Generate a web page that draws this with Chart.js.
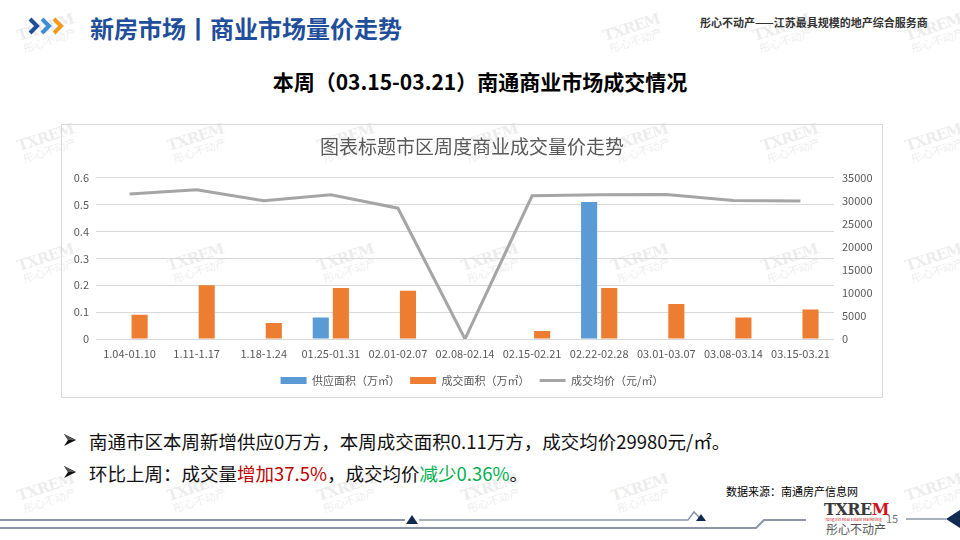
<!DOCTYPE html>
<html>
<head>
<meta charset="utf-8">
<script src="https://cdn.jsdelivr.net/npm/chart.js@4"></script>
<style>
  body { margin: 0; background: #fff; }
  #page { position: relative; width: 960px; height: 540px; overflow: hidden; background: #fff;
          font-family: "Noto Sans CJK SC", "Noto Sans", sans-serif; }
  .abs { position: absolute; white-space: nowrap; }
  .wm { position: absolute; color: rgba(190,190,190,0.28); transform: rotate(-18deg); text-align: center;
        line-height: 1; pointer-events: none; }
  .wm b { display: block; font-family: "DejaVu Serif", serif; font-size: 15px; letter-spacing: -1px; }
  .wm span { display: block; font-size: 11px; }
  #frame { position: absolute; left: 61px; top: 124px; width: 820px; height: 272px; border: 1px solid #d9d9d9; }
  #chartBox { position: absolute; left: 0; top: 0; width: 820px; height: 272px; }
  .bullet { font-size: 18.5px; color: #111; }
</style>
</head>
<body>
<div id="page">
  <div id="marks"></div>

  <svg class="abs" style="left:26px;top:16px" width="46" height="20" viewBox="0 0 46 20">
    <polyline points="4,3 11,10 4,17" fill="none" stroke="#1f4e9b" stroke-width="4"/>
    <polyline points="16,3 23,10 16,17" fill="none" stroke="#3d8ed6" stroke-width="4"/>
    <polyline points="28,3 35,10 28,17" fill="none" stroke="#f39a1c" stroke-width="4"/>
  </svg>
  <div class="abs" style="left:90px;top:10px;font-size:24px;font-weight:bold;color:#1f4e9b;">新房市场丨商业市场量价走势</div>
  <div class="abs" style="left:700px;top:14px;font-size:11px;font-weight:bold;color:#333;">彤心不动产——江苏最具规模的地产综合服务商</div>

  <div class="abs" style="left:0;width:960px;top:66px;text-align:center;font-size:21px;font-weight:bold;color:#000;">本周（03.15-03.21）南通商业市场成交情况</div>

  <div id="frame"><div id="chartBox"><canvas id="priceChart"></canvas></div></div>

  <svg class="abs" style="left:63px;top:433px" width="14" height="14" viewBox="0 0 14 14">
    <polygon points="1,1 13,7 1,13 5,7" fill="#111"/>
    <polygon points="1,1 13,7 5,7" fill="#555"/>
  </svg>
  <svg class="abs" style="left:63px;top:465px" width="14" height="14" viewBox="0 0 14 14">
    <polygon points="1,1 13,7 1,13 5,7" fill="#111"/>
    <polygon points="1,1 13,7 5,7" fill="#555"/>
  </svg>
  <div class="abs bullet" style="left:89px;top:428px;">南通市区本周新增供应0万方，本周成交面积0.11万方，成交均价29980元/㎡。</div>
  <div class="abs bullet" style="left:89px;top:460px;">环比上周：成交量<span style="color:#c00000">增加37.5%</span>，成交均价<span style="color:#00b050">减少0.36%</span>。</div>
  <div class="abs" style="left:726px;top:483px;font-size:11px;color:#000;">数据来源：南通房产信息网</div>

  <svg class="abs" style="left:0;top:500px" width="960" height="40" viewBox="0 0 960 40">
    <polyline points="0,20 405,20" fill="none" stroke="#8d96a8" stroke-width="2"/>
    <polyline points="419,20 688,20 694,12 700,18" fill="none" stroke="#8d96a8" stroke-width="1.5"/>
    <polyline points="0,28 756,28 764,20 806,20" fill="none" stroke="#8d96a8" stroke-width="2"/>
    <polygon points="406,24 412,15 418,24" fill="#102a50"/>
    <polygon points="696,21 701,14 706,21" fill="#102a50"/>
    <polyline points="906,19 946,19" fill="none" stroke="#8d96a8" stroke-width="1.5"/>
    <polygon points="946,19 960,10 960,28" fill="#102a50"/>
  </svg>
  <div class="abs" style="left:824px;top:500px;font-family:'DejaVu Serif',serif;font-weight:bold;font-size:16px;letter-spacing:-0.5px;color:#3a3a3a;">TXRE<span style="color:#d0161c">M</span></div>
  <div class="abs" style="left:825px;top:516px;font-size:4px;color:#d0161c;">Tong Xin Real Estate Marketing</div>
  <div class="abs" style="left:826px;top:520px;font-size:12px;color:#555;">彤心不动产</div>
  <div class="abs" style="left:886px;top:510px;font-size:11px;color:#777;">15</div>
</div>

<script>
// 分类与数据
const weeks = ['1.04-01.10', '1.11-1.17', '1.18-1.24', '01.25-01.31', '02.01-02.07', '02.08-02.14',
               '02.15-02.21', '02.22-02.28', '03.01-03.07', '03.08-03.14', '03.15-03.21'];
const supplyArea = [0, 0, 0, 0.08, 0, 0, 0, 0.51, 0, 0, 0];          // 供应面积（万㎡）
const dealArea = [0.09, 0.2, 0.06, 0.19, 0.18, 0, 0.03, 0.19, 0.13, 0.08, 0.11]; // 成交面积（万㎡）
const avgPrice = [31500, 32400, 30000, 31300, 28400, 0, 31100, 31300, 31350, 30090, 29980]; // 成交均价（元/㎡）
const areaTicks = ['0', '0.1', '0.2', '0.3', '0.4', '0.5', '0.6'];
const priceTicks = ['0', '5000', '10000', '15000', '20000', '25000', '30000', '35000'];

// watermarks (decoration only)
const marks = document.getElementById('marks');
[[18, 20], [168, 130], [318, 130], [462, 130], [612, 130], [762, 130], [906, 130],
 [168, 250], [318, 250], [462, 250], [612, 250], [762, 250], [906, 250],
 [18, 250], [18, 130], [168, 480], [318, 480], [462, 480], [612, 480], [906, 480], [18, 480],
 [604, 20], [754, 20], [906, 20]].forEach(function(p) {
    const d = document.createElement('div');
    d.className = 'wm';
    d.style.left = p[0] + 'px';
    d.style.top = p[1] + 'px';
    d.innerHTML = '<b>TXREM</b><span>彤心不动产</span>';
    marks.appendChild(d);
});

const FONT = "'Noto Sans CJK SC', 'Noto Sans', sans-serif";

new Chart(document.getElementById('priceChart'), {
    type: 'bar',
    data: {
        labels: weeks,
        datasets: [
            {
                label: '供应面积（万㎡）',
                data: supplyArea,
                backgroundColor: '#5b9bd5',
                yAxisID: 'y',
                categoryPercentage: 0.6,
                barPercentage: 0.8,
                pointStyle: 'rect',
                order: 1
            },
            {
                label: '成交面积（万㎡）',
                data: dealArea,
                backgroundColor: '#ed7d31',
                yAxisID: 'y',
                categoryPercentage: 0.6,
                barPercentage: 0.8,
                pointStyle: 'rect',
                order: 1
            },
            {
                type: 'line',
                label: '成交均价（元/㎡）',
                data: avgPrice,
                borderColor: '#a5a5a5',
                backgroundColor: '#a5a5a5',
                borderWidth: 3,
                pointRadius: 0,
                pointStyle: 'line',
                tension: 0,
                yAxisID: 'y1',
                order: 0
            }
        ]
    },
    options: {
        responsive: true,
        maintainAspectRatio: false,
        animation: false,
        layout: { padding: { left: 0, right: 0, top: 0, bottom: 1 } },
        plugins: {
            title: {
                display: true,
                text: '图表标题市区周度商业成交量价走势',
                color: '#595959',
                font: { family: FONT, size: 19, weight: 'normal' },
                padding: { top: 10, bottom: 20 }
            },
            legend: {
                position: 'bottom',
                labels: {
                    color: '#595959',
                    font: { family: FONT, size: 11 },
                    usePointStyle: true,
                    pointStyleWidth: 26,
                    boxHeight: 7,
                    padding: 10,
                    sort: function(a, b) { return a.datasetIndex - b.datasetIndex; }
                }
            },
            tooltip: { enabled: false }
        },
        scales: {
            x: {
                grid: { display: false, drawTicks: false },
                border: { display: false },
                ticks: { color: '#595959', font: { family: FONT, size: 11 }, autoSkip: false, maxRotation: 0, padding: 8 },
                afterFit: function(s) { s.height = 26; }
            },
            y: {
                position: 'left',
                min: 0,
                max: 0.6,
                grid: { color: '#d9d9d9', drawTicks: false },
                border: { display: false },
                ticks: {
                    stepSize: 0.1,
                    color: '#595959',
                    font: { family: FONT, size: 11 },
                    padding: 7,
                    callback: function(v, i) { return areaTicks[i]; }
                },
                afterFit: function(s) { s.width = 34; }
            },
            y1: {
                position: 'right',
                min: 0,
                max: 35000,
                grid: { display: false, drawTicks: false },
                border: { display: false },
                ticks: {
                    stepSize: 5000,
                    color: '#595959',
                    font: { family: FONT, size: 11 },
                    padding: 8,
                    callback: function(v, i) { return priceTicks[i]; }
                },
                afterFit: function(s) { s.width = 48; }
            }
        }
    }
});
</script>
</body>
</html>
